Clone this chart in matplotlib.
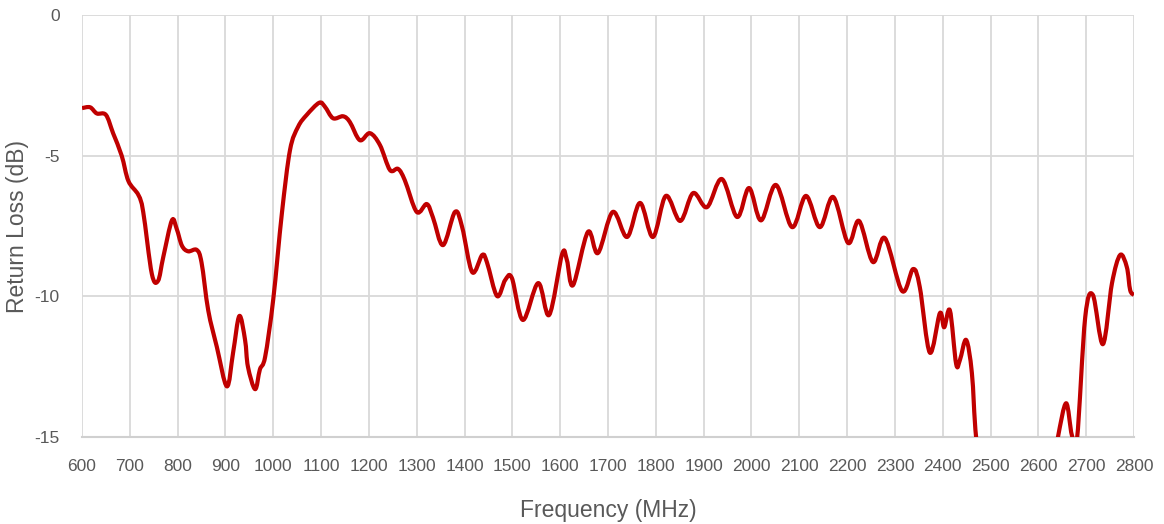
import matplotlib.pyplot as plt
import numpy as np
from matplotlib.path import Path
from matplotlib.patches import PathPatch

freq = [600, 617, 631, 650, 665, 683, 697, 718, 728, 746, 759, 770, 788, 798, 809,
        822, 840, 850, 864, 882, 903, 916, 929, 941, 947, 962, 972, 983, 1000, 1018,
        1035, 1052, 1070, 1096, 1108, 1125, 1146, 1160, 1181, 1202, 1223, 1244, 1261,
        1275, 1300, 1321, 1334, 1355, 1380, 1395, 1416, 1437, 1447, 1468, 1485, 1499,
        1522, 1554, 1577, 1604, 1614, 1627, 1658, 1679, 1710, 1740, 1767, 1794, 1821,
        1851, 1878, 1907, 1938, 1970, 1995, 2020, 2051, 2085, 2114, 2143, 2171, 2202,
        2225, 2254, 2279, 2315, 2338, 2352, 2373, 2394, 2403, 2415, 2428, 2436, 2449,
        2461, 2470, 2490, 2520, 2560, 2600, 2630, 2641, 2658, 2670, 2681, 2698, 2714,
        2735, 2754, 2771, 2785, 2792, 2800]
rl_db = [-3.31, -3.28, -3.5, -3.55, -4.2, -5.0, -5.9, -6.4, -7.0, -9.2, -9.45, -8.6,
         -7.3, -7.6, -8.2, -8.4, -8.35, -8.8, -10.5, -11.8, -13.2, -12.0, -10.7, -11.55,
         -12.5, -13.3, -12.6, -12.15, -10.1, -7.05, -4.8, -3.97, -3.55, -3.12, -3.26,
         -3.67, -3.6, -3.8, -4.45, -4.2, -4.62, -5.51, -5.47, -5.87, -7.0, -6.72, -7.2,
         -8.18, -7.0, -7.54, -9.14, -8.53, -8.8, -9.99, -9.42, -9.35, -10.84, -9.53,
         -10.66, -8.5, -8.71, -9.6, -7.71, -8.46, -7.0, -7.89, -6.68, -7.89, -6.43,
         -7.32, -6.33, -6.83, -5.83, -7.18, -6.15, -7.3, -6.04, -7.54, -6.43, -7.54,
         -6.47, -8.1, -7.32, -8.78, -7.93, -9.81, -9.03, -9.67, -12.0, -10.6, -11.1,
         -10.5, -12.4, -12.26, -11.55, -12.73, -15.04, -17.5, -19.5, -20.5, -19.0,
         -16.2, -15.0, -13.8, -14.93, -15.04, -10.74, -9.95, -11.7, -9.53, -8.53, -8.96,
         -9.78, -9.95]

x_ticks = list(range(600, 2801, 100))
y_ticks = [0, -5, -10, -15]


def smooth_path(x, y):
    # Excel-style smoothed line: cubic bezier through every point
    p = np.column_stack([x, y]).astype(float)
    n = len(p)
    verts = [p[0]]
    codes = [Path.MOVETO]
    for i in range(n - 1):
        p0 = p[i - 1] if i > 0 else p[i]
        p3 = p[i + 2] if i + 2 < n else p[i + 1]
        c1 = p[i] + (p[i + 1] - p0) / 6.0
        c2 = p[i + 1] - (p3 - p[i]) / 6.0
        verts += [c1, c2, p[i + 1]]
        codes += [Path.CURVE4] * 3
    return Path(verts, codes)


plt.rcParams['font.family'] = ['Liberation Sans', 'DejaVu Sans']
plt.rcParams['axes.unicode_minus'] = False

fig = plt.figure(figsize=(11.64, 5.24), dpi=100)
ax = fig.add_axes([82 / 1164, 1 - 437 / 524, (1134 - 82) / 1164, (437 - 15) / 524])

line = PathPatch(smooth_path(freq, rl_db), facecolor='none', edgecolor='#C00000',
                 lw=3, joinstyle='round', capstyle='butt', zorder=3)
ax.add_patch(line)

ax.set_xlim(600, 2800)
ax.set_ylim(-15, 0)
ax.set_xticks(x_ticks)
ax.set_yticks(y_ticks)
ax.grid(True, color='#d9d9d9', lw=1.3)
ax.set_axisbelow(True)
for s in ['top', 'right', 'left']:
    ax.spines[s].set_visible(False)
ax.spines['bottom'].set_color('#d0d0d0')
ax.spines['bottom'].set_linewidth(1.5)
ax.tick_params(axis='x', length=0, labelsize=12.5, labelcolor='#595959', pad=16)
ax.tick_params(axis='y', length=0, labelsize=12.5, labelcolor='#595959', pad=16)

ax.set_xlabel('Frequency (MHz)', fontsize=16.5, color='#595959', labelpad=18)
ax.set_ylabel('Return Loss (dB)', fontsize=16.5, color='#595959', labelpad=4)

fig.savefig('out.png', dpi=100)
